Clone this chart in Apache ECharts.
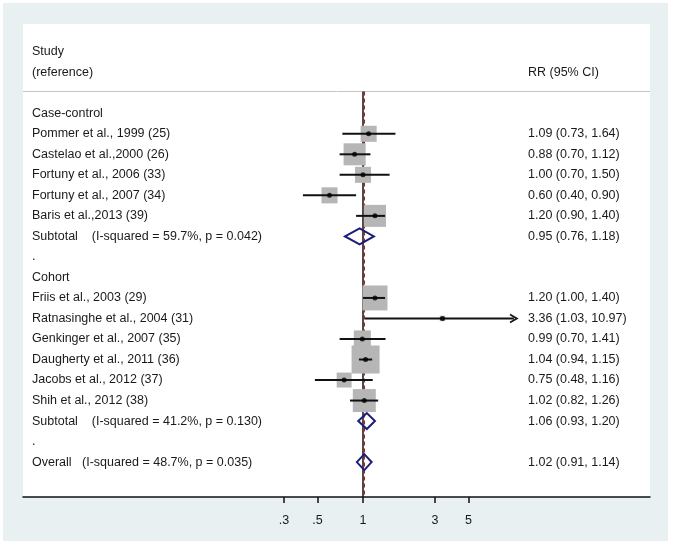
<!DOCTYPE html>
<html><head><meta charset="utf-8">
<script src="https://cdn.jsdelivr.net/npm/echarts@6/dist/echarts.min.js"></script>
<style>
html,body{margin:0;padding:0;background:#fff;}
#c{position:absolute;left:3px;top:3px;width:665px;height:538px;}
</style>
</head><body><div id="c"></div>
<script>
// ---------- data ----------
const rowLabels = [
  "Case-control",
  "Pommer et al., 1999 (25)",
  "Castelao et al.,2000 (26)",
  "Fortuny et al., 2006 (33)",
  "Fortuny et al., 2007 (34)",
  "Baris et al.,2013 (39)",
  "Subtotal    (I-squared = 59.7%, p = 0.042)",
  ".",
  "Cohort",
  "Friis et al., 2003 (29)",
  "Ratnasinghe et al., 2004 (31)",
  "Genkinger et al., 2007 (35)",
  "Daugherty et al., 2011 (36)",
  "Jacobs et al., 2012 (37)",
  "Shih et al., 2012 (38)",
  "Subtotal    (I-squared = 41.2%, p = 0.130)",
  ".",
  "Overall   (I-squared = 48.7%, p = 0.035)"
];
const rowKinds = ["group","study","study","study","study","study","pooled","gap",
  "group","study","study","study","study","study","study","pooled","gap","pooled"];
const rr     = [null,1.09,0.88,1.00,0.60,1.20,0.95,null,null,1.20,3.36,0.99,1.04,0.75,1.02,1.06,null,1.02];
const ciLow  = [null,0.73,0.70,0.70,0.40,0.90,0.76,null,null,1.00,1.03,0.70,0.94,0.48,0.82,0.93,null,0.91];
const ciHigh = [null,1.64,1.12,1.50,0.90,1.40,1.18,null,null,1.40,10.97,1.41,1.15,1.16,1.26,1.20,null,1.14];
const weights = [null,6.1,11.5,6.1,6.1,11.5,null,null,null,14.8,0.7,6.9,18.6,5.3,12.5,null,null,null];
const headerLeft = ["Study","(reference)"];
const headerRight = "RR (95% CI)";
const tickValues = [0.3,0.5,1,3,5];
const tickLabels = [".3",".5","1","3","5"];
const overallRR = 1.02;
const nullValue = 1;

// ---------- layout ----------
const L = v => Math.log10(v);
const FONT = "'Liberation Sans', Arial, sans-serif";
const FS = 12.5;
const TXT = '#1a1a1a';
const X_MIN = -2.2517, X_MAX = 1.9007, Y_MIN = -4.35, Y_MAX = 18.7;
const HEADER_ROW = -1.06;
const CLIP_HI = 1; // log10 of plotted upper limit (10)

const idxOf = k => rowKinds.map((t,i)=>t===k?i:-1).filter(i=>i>=0);
const studyIdx = idxOf('study');
const pooledIdx = idxOf('pooled');
const fmt = i => `${rr[i].toFixed(2)} (${ciLow[i].toFixed(2)}, ${ciHigh[i].toFixed(2)})`;

const chart = echarts.init(document.getElementById('c'), null, {renderer:'canvas'});
const option = {
  backgroundColor:'#e9f0f2',
  animation:false,
  grid:{left:20,right:18,top:21,bottom:44,show:true,backgroundColor:'#ffffff',borderWidth:0},
  xAxis:{
    type:'value', min:X_MIN, max:X_MAX, position:'bottom',
    axisLine:{show:true,onZero:false,lineStyle:{color:'#111',width:1.5}},
    axisTick:{show:true,customValues:tickValues.map(L),length:6,lineStyle:{color:'#111',width:1.5}},
    axisLabel:{customValues:tickValues.map(L),margin:17,fontSize:FS,color:TXT,fontFamily:FONT,
      formatter:v=>{let b=0,d=1e9;tickValues.forEach((t,k)=>{const dd=Math.abs(L(t)-v);if(dd<d){d=dd;b=k;}});return tickLabels[b];}},
    splitLine:{show:false}
  },
  yAxis:{type:'value',inverse:true,min:Y_MIN,max:Y_MAX,show:false},
  series:[
    {type:'line',silent:true,symbol:'none',z:1,data:[[X_MIN,HEADER_ROW],[X_MAX,HEADER_ROW]],
      lineStyle:{color:'#c4c4c4',width:1}},
    {type:'line',silent:true,symbol:'none',z:2,data:[[L(nullValue),HEADER_ROW],[L(nullValue),Y_MAX]],
      lineStyle:{color:'#111',width:1.5}},
    {type:'line',silent:true,symbol:'none',z:3,data:[[L(overallRR),HEADER_ROW],[L(overallRR),Y_MAX]],
      lineStyle:{color:'#9a2a2a',width:1.5,type:[4,3]}},
    // weight boxes
    {type:'custom',z:4,silent:true,data:studyIdx.map(i=>[L(rr[i]),i,weights[i]]),
      renderItem:(p,api)=>{const c=api.coord([api.value(0),api.value(1)]);const s=6.5*Math.sqrt(api.value(2));
        return {type:'rect',shape:{x:c[0]-s/2,y:c[1]-s/2,width:s,height:s},style:{fill:'#b6b6b6'}};}},
    // CI lines
    {type:'custom',z:5,silent:true,data:studyIdx.map(i=>[L(ciLow[i]),L(ciHigh[i]),i]),
      renderItem:(p,api)=>{const lo=api.value(0),hi=api.value(1),r=api.value(2);
        const clipped=hi>CLIP_HI;const a=api.coord([lo,r]);const b=api.coord([Math.min(hi,CLIP_HI),r]);
        const ch=[{type:'line',shape:{x1:a[0],y1:a[1],x2:b[0],y2:b[1]},style:{stroke:'#111',lineWidth:2}}];
        if(clipped){ch.push({type:'polyline',shape:{points:[[b[0]-4,b[1]-4],[b[0]+3,b[1]],[b[0]-4,b[1]+4]]},style:{stroke:'#111',lineWidth:1.6,fill:'none'}});}
        return {type:'group',children:ch};}},
    // point estimates
    {type:'scatter',z:6,silent:true,symbol:'circle',symbolSize:5,itemStyle:{color:'#000'},
      data:studyIdx.map(i=>[L(rr[i]),i])},
    // pooled diamonds
    {type:'custom',z:6,silent:true,data:pooledIdx.map(i=>[L(ciLow[i]),L(rr[i]),L(ciHigh[i]),i]),
      renderItem:(p,api)=>{const r=api.value(3);const a=api.coord([api.value(0),r]),m=api.coord([api.value(1),r]),b=api.coord([api.value(2),r]);
        const h=8;
        return {type:'polygon',shape:{points:[[a[0],a[1]],[m[0],m[1]-h],[b[0],b[1]],[m[0],m[1]+h]]},style:{stroke:'#1d1d78',lineWidth:2,fill:'none'}};}},
    // left labels + right values
    {type:'custom',z:7,silent:true,data:rowLabels.map((t,i)=>[X_MIN,i]),
      renderItem:(p,api)=>{const i=p.dataIndex;const c=api.coord([X_MIN,i]);
        const ch=[{type:'text',x:c[0]+9,y:c[1],style:{text:rowLabels[i],fill:TXT,fontSize:FS,fontFamily:FONT,verticalAlign:'middle',align:'left'}}];
        if(rr[i]!=null){ch.push({type:'text',x:c[0]+505,y:c[1],style:{text:fmt(i),fill:TXT,fontSize:FS,fontFamily:FONT,verticalAlign:'middle',align:'left'}});}
        return {type:'group',children:ch};}},
    // header
    {type:'custom',z:7,silent:true,data:headerLeft.map((t,k)=>[X_MIN,-3+k]),
      renderItem:(p,api)=>{const k=p.dataIndex;const c=api.coord([X_MIN,api.value(1)]);
        const ch=[{type:'text',x:c[0]+9,y:c[1],style:{text:headerLeft[k],fill:TXT,fontSize:FS,fontFamily:FONT,verticalAlign:'middle',align:'left'}}];
        if(k===1){ch.push({type:'text',x:c[0]+505,y:c[1],style:{text:headerRight,fill:TXT,fontSize:FS,fontFamily:FONT,verticalAlign:'middle',align:'left'}});}
        return {type:'group',children:ch};}}
  ]
};
chart.setOption(option);
</script>
</body></html>
